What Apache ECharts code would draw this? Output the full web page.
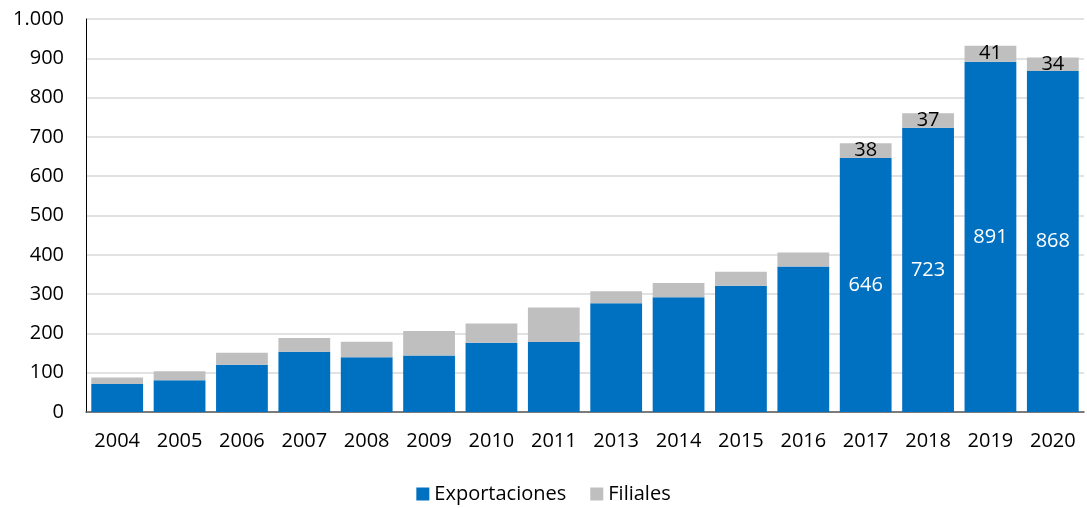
<!DOCTYPE html>
<html>
<head>
<meta charset="utf-8">
<script src="https://cdn.jsdelivr.net/npm/echarts@6/dist/echarts.min.js"></script>
<style>
  html, body { margin: 0; padding: 0; background: #fff; }
  #chart { width: 1087px; height: 508px; }
</style>
</head>
<body>
<div id="chart"></div>
<script>
// años (no hay 2012 en el original)
const years = ['2004', '2005', '2006', '2007', '2008', '2009', '2010', '2011',
  '2013', '2014', '2015', '2016', '2017', '2018', '2019', '2020'];
const exportaciones = [71, 81, 120, 153, 139, 144, 176, 178, 277, 292, 321, 370, 646, 723, 891, 868];
const filiales = [17, 23, 31, 35, 40, 62, 49, 88, 30, 36, 36, 36, 38, 37, 41, 34];
// solo se rotulan los últimos años
const labelFrom = '2017';

const fontFamily = '"Open Sans", sans-serif';
const fs = 20;
const firstLabelIdx = years.indexOf(labelFrom);

const myChart = echarts.init(document.getElementById('chart'));

const option = {
  animation: false,
  textStyle: { fontFamily: fontFamily },
  grid: { left: 86, right: 3, top: 19, bottom: 96, containLabel: false },
  legend: {
    bottom: -1,
    left: 'center',
    itemWidth: 13,
    itemHeight: 13,
    itemGap: 24,
    icon: 'rect',
    textStyle: { fontSize: fs, color: '#000', fontFamily: fontFamily },
    data: ['Exportaciones', 'Filiales']
  },
  xAxis: {
    type: 'category',
    data: years,
    axisLine: { lineStyle: { color: '#595959', width: 1.5 } },
    axisTick: { show: false },
    axisLabel: { fontSize: fs, color: '#000', margin: 19 }
  },
  yAxis: {
    type: 'value',
    min: 0,
    max: 1000,
    interval: 100,
    axisLine: { show: true, lineStyle: { color: '#000', width: 1 } },
    axisTick: { show: false },
    splitLine: { lineStyle: { color: '#d9d9d9', width: 1.5 } },
    axisLabel: {
      fontSize: fs,
      color: '#000',
      margin: 22,
      formatter: v => v >= 1000 ? (v / 1000) + '.' + String(v % 1000).padStart(3, '0') : String(v)
    }
  },
  series: [
    {
      name: 'Exportaciones',
      type: 'bar',
      stack: 'total',
      barCategoryGap: '17%',
      itemStyle: { color: '#0070c0' },
      data: exportaciones.map((v, i) => ({
        value: v,
        label: {
          show: i >= firstLabelIdx,
          position: 'inside',
          color: '#fff',
          fontSize: fs
        }
      }))
    },
    {
      name: 'Filiales',
      type: 'bar',
      stack: 'total',
      itemStyle: { color: '#bfbfbf' },
      data: filiales.map((v, i) => ({
        value: v,
        label: {
          show: i >= firstLabelIdx,
          position: 'inside',
          color: '#000',
          fontSize: fs
        }
      }))
    }
  ]
};

myChart.setOption(option);
</script>
</body>
</html>
